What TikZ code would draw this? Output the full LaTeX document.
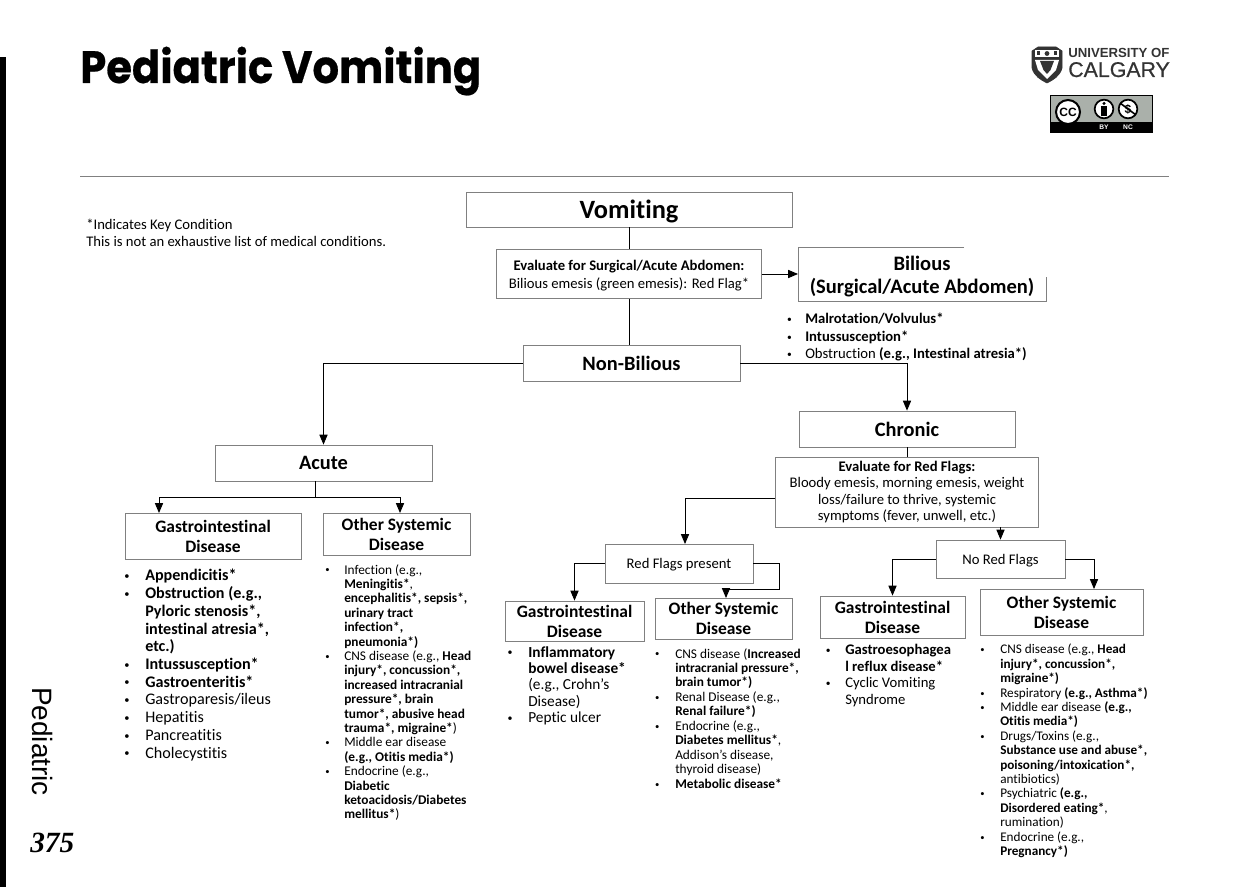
\documentclass[tikz,border=0pt]{standalone}
\usepackage{fontspec}
\setmainfont[RawFeature={-liga}]{Carlito}
\newfontfamily\titlefont[BoldFeatures={FakeBold=0.5}]{Poppins}
\newfontfamily\sidefont{Liberation Sans}
\newfontfamily\logofont[FakeBold=0.6]{Liberation Sans}
\newfontfamily\pagefont{Liberation Serif}
\usepackage{xcolor}
\usepackage{tikz}
\usetikzlibrary{arrows}
\definecolor{boxgray}{gray}{0.5}
\definecolor{logogray}{gray}{0.2}
\definecolor{badgegray}{HTML}{AAB0AA}
\newcommand{\itm}[1]{\llap{\raisebox{0.08em}{\scalebox{0.65}{\textbullet}}\hspace{#1pt}}}
\tikzset{
    box/.style 2 args = {draw = boxgray, line width = 0.6pt, fill = white, align = center, inner sep = 0pt,
        minimum width = #1*0.75pt, minimum height = #2*0.75pt},
    conn/.style = {black, line width = 0.7pt},
    arr/.style = {conn, -triangle 45},
    midtxt/.style = {font = \fontsize{13.1pt}{15pt}\selectfont\bfseries},
    bigtxt/.style = {font = \fontsize{15.3pt}{18pt}\selectfont\bfseries},
    listtxt/.style = {anchor = north west, align = left, inner sep = 0pt},
}
\begin{document}
\begin{tikzpicture}[x = 0.75pt, y = -0.75pt]
    \useasboundingbox (0, 0) rectangle (1252, 887);
    \fill[black] (0, 57) rectangle (6, 887);
    \node[anchor = base west, inner sep = 0pt] (title) at (80, 83)
        {\scalebox{0.92}[1]{\fontsize{34pt}{38pt}\titlefont\bfseries Pediatric Vomiting}};
    \draw[gray, line width = 0.7pt] (80, 176) -- (1169, 176);

    \node[rotate = -90, anchor = center, inner sep = 0pt] (side) at (43, 741.5)
        {\fontsize{21pt}{24pt}\sidefont Pediatric};
    \node[anchor = base west, inner sep = 0pt] (page) at (30, 852)
        {\fontsize{22pt}{24pt}\pagefont\bfseries\itshape 375};

    \node[listtxt, font = \fontsize{11pt}{12.7pt}\selectfont] (note) at (86, 219)
        {*Indicates Key Condition\\This is not an exhaustive list of medical conditions.};

    \node[box = {326}{35}, font = \fontsize{19.8pt}{22pt}\selectfont\bfseries, text depth = 0pt] (vomiting) at (629, 209.5) {Vomiting};
    \node[box = {265}{49}, font = \fontsize{11pt}{13.5pt}\selectfont, text depth = 0pt] (evalsurg) at (629, 274)
        {\textbf{Evaluate for Surgical/Acute Abdomen:}\\Bilious emesis (green emesis): Red Flag*};
    \node[align = center, inner sep = 0pt, minimum width = 186pt, minimum height = 40.5pt,
        font = \fontsize{15.4pt}{17.3pt}\selectfont\bfseries] (bilious) at (922, 277)
        {Bilious\\(Surgical/Acute Abdomen)};
    \node[box = {217}{36}, bigtxt] (nonbilious) at (631.5, 363) {Non-Bilious};
    \node[box = {217}{36}, bigtxt] (acute) at (323.5, 463) {Acute};
    \node[box = {216}{36}, bigtxt] (chronic) at (907, 429) {Chronic};
    \node[box = {263}{70}, font = \fontsize{11pt}{12.4pt}\selectfont] (evalflags) at (907, 492)
        {\textbf{Evaluate for Red Flags:}\\Bloody emesis, morning emesis, weight\\loss/failure to thrive, systemic\\symptoms (fever, unwell, etc.)};
    \node[box = {148}{39}, font = \fontsize{11pt}{12pt}\selectfont, text depth = 0pt] (flagsyes) at (679, 563.5) {Red Flags present};
    \node[box = {129}{38}, font = \fontsize{11pt}{12pt}\selectfont, text depth = 0pt] (flagsno) at (1000.5, 559) {No Red Flags};

    \node[box = {176}{46}, midtxt] (giacute) at (213, 536) {Gastrointestinal\\Disease};
    \node[box = {147}{42}, midtxt] (sysacute) at (396.5, 534) {Other Systemic\\Disease};
    \node[box = {139}{40}, midtxt] (giyes) at (574.5, 621) {Gastrointestinal\\Disease};
    \node[box = {137}{41}, midtxt] (sysyes) at (723.5, 618.5) {Other Systemic\\Disease};
    \node[box = {145}{42}, midtxt] (gino) at (892.5, 617) {Gastrointestinal\\Disease};
    \node[box = {163}{46}, midtxt] (sysno) at (1061.5, 612) {Other Systemic\\Disease};

    \coordinate (acuteout) at (315, 481);
    \coordinate (acutesplit) at (315, 497);
    \coordinate (giacutein) at (159, 513);
    \coordinate (sysacutein) at (400, 513);
    \coordinate (biliousin) at (798, 274);
    \coordinate (flagsyesin) at (685, 544);
    \coordinate (sysyesin) at (726, 598);
    \coordinate (sysyesbend) at (779, 589);
    \coordinate (sysnoin) at (1094, 589);

    \draw[conn] (vomiting) -- (evalsurg);
    \draw[conn] (evalsurg) -- (nonbilious.north -| evalsurg);
    \draw[arr] (evalsurg) -- (biliousin);
    \draw[arr] (nonbilious) -| (acute);
    \draw[arr] (nonbilious) -| (chronic);
    \draw[conn] (chronic) -- (evalflags);
    \draw[arr] (acuteout) -- (acutesplit) -| (giacutein);
    \draw[arr] (acuteout) -- (acutesplit) -| (sysacutein);
    \draw[arr] (evalflags.west |- 0, 498) -| (flagsyesin);
    \draw[arr] (flagsno.north |- evalflags.south) -- (flagsno.north);
    \draw[arr] (flagsyes) -| (giyes);
    \draw[arr] (flagsyes) -| (sysyesbend) -| (sysyesin);
    \draw[arr] (flagsno) -| (gino);
    \draw[arr] (flagsno) -| (sysnoin);

    \draw[boxgray, line width = 0.6pt] (964, 247) -- (798, 247) -- (798, 301) -- (1046, 301) -- (1046, 277);

    \node[listtxt, font = \fontsize{11pt}{13.1pt}\selectfont] (listbil) at (805, 313)
        {\itm{10}\textbf{Malrotation/Volvulus*}\\
         \itm{10}\textbf{Intussusception*}\\
         \itm{10}Obstruction \textbf{(e.g., Intestinal atresia*)}};
    \node[listtxt, font = \fontsize{12.1pt}{13.3pt}\selectfont] (listgiacute) at (145, 569)
        {\itm{11.8}\textbf{Appendicitis*}\\
         \itm{11.8}\textbf{Obstruction (e.g.,}\\
         \textbf{Pyloric stenosis*,}\\
         \textbf{intestinal atresia*,}\\
         \textbf{etc.)}\\
         \itm{11.8}\textbf{Intussusception*}\\
         \itm{11.8}\textbf{Gastroenteritis*}\\
         \itm{11.8}Gastroparesis/ileus\\
         \itm{11.8}Hepatitis\\
         \itm{11.8}Pancreatitis\\
         \itm{11.8}Cholecystitis};
    \node[listtxt, font = \fontsize{10pt}{10.8pt}\selectfont] (listsysacute) at (344, 564)
        {\itm{11}Infection (e.g.,\\
         \textbf{Meningitis*},\\
         \textbf{encephalitis*, sepsis*,}\\
         \textbf{urinary tract}\\
         \textbf{infection*,}\\
         \textbf{pneumonia*)}\\
         \itm{11}CNS disease (e.g., \textbf{Head}\\
         \textbf{injury*, concussion*,}\\
         \textbf{increased intracranial}\\
         \textbf{pressure*, brain}\\
         \textbf{tumor*, abusive head}\\
         \textbf{trauma*, migraine*})\\
         \itm{11}Middle ear disease\\
         \textbf{(e.g., Otitis media*)}\\
         \itm{11}Endocrine (e.g.,\\
         \textbf{Diabetic}\\
         \textbf{ketoacidosis/Diabetes}\\
         \textbf{mellitus*})};
    \node[listtxt, font = \fontsize{11.5pt}{12.3pt}\selectfont] (listgiyes) at (528, 646)
        {\itm{11.8}\textbf{Inflammatory}\\
         \textbf{bowel disease*}\\
         (e.g., Crohn’s\\
         Disease)\\
         \itm{11.8}Peptic ulcer};
    \node[listtxt, font = \fontsize{10pt}{10.85pt}\selectfont] (listsysyes) at (675, 648)
        {\itm{11.8}CNS disease (\textbf{Increased}\\
         \textbf{intracranial pressure*,}\\
         \textbf{brain tumor*)}\\
         \itm{11.8}Renal Disease (e.g.,\\
         \textbf{Renal failure*)}\\
         \itm{11.8}Endocrine (e.g.,\\
         \textbf{Diabetes mellitus*},\\
         Addison’s disease,\\
         thyroid disease)\\
         \itm{11.8}\textbf{Metabolic disease*}};
    \node[listtxt, font = \fontsize{11pt}{12.5pt}\selectfont] (listgino) at (845, 644)
        {\itm{11}\textbf{Gastroesophagea}\\
         \textbf{l reflux disease*}\\
         \itm{11}Cyclic Vomiting\\
         Syndrome};
    \node[listtxt, font = \fontsize{9.9pt}{10.8pt}\selectfont] (listsysno) at (1000, 644)
        {\itm{11.8}CNS disease (e.g., \textbf{Head}\\
         \textbf{injury*, concussion*,}\\
         \textbf{migraine*)}\\
         \itm{11.8}Respiratory \textbf{(e.g., Asthma*)}\\
         \itm{11.8}Middle ear disease \textbf{(e.g.,}\\
         \textbf{Otitis media*)}\\
         \itm{11.8}Drugs/Toxins (e.g.,\\
         \textbf{Substance use and abuse*,}\\
         \textbf{poisoning/intoxication*,}\\
         antibiotics)\\
         \itm{11.8}Psychiatric \textbf{(e.g.,}\\
         \textbf{Disordered eating*},\\
         rumination)\\
         \itm{11.8}Endocrine (e.g.,\\
         \textbf{Pregnancy*)}};

    \filldraw[logogray, line width = 0.5pt] (1032, 51) -- (1038, 47) -- (1056, 47) -- (1062, 51) -- (1062, 68)
        .. controls (1060, 76) and (1053, 80) .. (1047, 83) .. controls (1041, 80) and (1034, 76) .. (1032, 68) -- cycle;
    \fill[white] (1035, 50) rectangle (1059, 57);
    \fill[logogray] (1037, 51.5) rectangle (1040, 55.5);
    \fill[logogray] (1047, 53.5) circle(1.8pt);
    \fill[logogray] (1054, 51.5) rectangle (1057, 55.5);
    \fill[white] (1035, 60) -- (1059, 60) -- (1056, 70) -- (1047, 79) -- (1038, 70) -- cycle;
    \fill[logogray] (1040, 61) -- (1054, 61) -- (1050.5, 70) -- (1047, 74) -- (1043.5, 70) -- cycle;
    \node[anchor = base west, inner sep = 0pt, text = logogray] (logotop) at (1068, 58)
        {\fontsize{9.9pt}{10pt}\sidefont\bfseries UNIVERSITY OF};
    \node[anchor = base west, inner sep = 0pt, text = logogray] (logobottom) at (1068, 77)
        {\fontsize{16pt}{17pt}\logofont CALGARY};

    \filldraw[fill = badgegray, draw = black, line width = 0.5pt] (1050, 95) rectangle (1152, 132);
    \fill[black] (1050, 122) rectangle (1152, 132);
    \filldraw[color = black, fill = white, line width = 1.5pt] (1068, 112) circle(9pt);
    \node[inner sep = 0pt] (cctext) at (1068, 112) {\fontsize{9pt}{10pt}\sidefont\bfseries CC};
    \filldraw[color = black, fill = white, line width = 1.3pt] (1104, 109) circle(7pt);
    \fill[black] (1104, 103.5) circle(1.3pt);
    \fill[black] (1101, 106) rectangle (1107, 116);
    \filldraw[color = black, fill = white, line width = 1.3pt] (1128, 109) circle(7pt);
    \node[inner sep = 0pt] (nctext) at (1128, 109) {\fontsize{9pt}{10pt}\sidefont\bfseries\$};
    \draw[black, line width = 1.2pt] (1120, 103) -- (1136, 115);
    \node[inner sep = 0pt, text = white] (bytext) at (1104, 127) {\fontsize{5pt}{6pt}\sidefont\bfseries BY};
    \node[inner sep = 0pt, text = white] (nclabel) at (1128, 127) {\fontsize{5pt}{6pt}\sidefont\bfseries NC};
\end{tikzpicture}
\end{document}
